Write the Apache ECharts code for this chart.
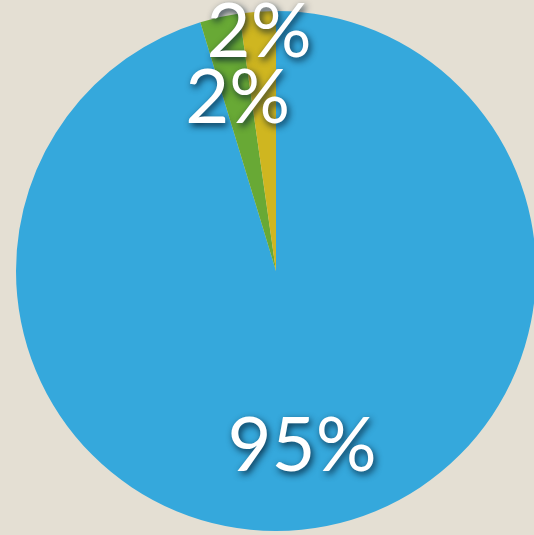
<!DOCTYPE html>
<html>
<head>
<meta charset="utf-8">
<script src="https://cdn.jsdelivr.net/npm/echarts@6/dist/echarts.min.js"></script>
<style>
html,body{margin:0;padding:0;background:#e4dfd3;}
#chart{width:534px;height:535px;}
</style>
</head>
<body>
<div id="chart"></div>
<script>
var categories = ['Blue', 'Green', 'Yellow'];
var values = [95.3, 2.45, 2.25];
var colors = ['#35a8dc', '#68a935', '#cfb620'];
// which label ring each slice label goes on: 0 = middle ring, 1 = outer ring
var labelRing = [0, 0, 1];

var total = values.reduce(function (a, b) { return a + b; }, 0);
function pct(p) { return Math.round(p.value / total * 100) + '%'; }

var center = [276, 271];
var R = 260;

var labelStyle = {
  show: true,
  position: 'inside',
  formatter: pct,
  color: '#ffffff',
  opacity: 1,
  fontFamily: 'Lato',
  fontSize: 76,
  lineHeight: 60,
  fontWeight: 'normal',
  textShadowColor: 'rgba(0,25,45,0.85)',
  textShadowBlur: 7,
  textShadowOffsetX: 2,
  textShadowOffsetY: 3
};

function makeData(ring) {
  return categories.map(function (c, i) {
    return {
      name: c,
      value: values[i],
      itemStyle: { color: ring === null ? colors[i] : 'rgba(0,0,0,0)' },
      label: { show: ring === null ? false : labelRing[i] === ring }
    };
  });
}

function labelSeries(inner, ring) {
  return {
    type: 'pie',
    center: center,
    radius: [inner, R],
    startAngle: 90,
    clockwise: true,
    silent: true,
    avoidLabelOverlap: false,
    minShowLabelAngle: 0,
    itemStyle: { borderWidth: 0 },
    label: labelStyle,
    labelLine: { show: false },
    labelLayout: { hideOverlap: false },
    data: makeData(ring)
  };
}

var chart = echarts.init(document.getElementById('chart'));
chart.setOption({
  backgroundColor: '#e4dfd3',
  animation: false,
  series: [
    {
      type: 'pie',
      center: center,
      radius: [0, R],
      startAngle: 90,
      clockwise: true,
      silent: true,
      itemStyle: { borderWidth: 0 },
      label: { show: false },
      labelLine: { show: false },
      data: makeData(null)
    },
    labelSeries(88, 0),
    labelSeries(213, 1)
  ]
});
</script>
</body>
</html>
